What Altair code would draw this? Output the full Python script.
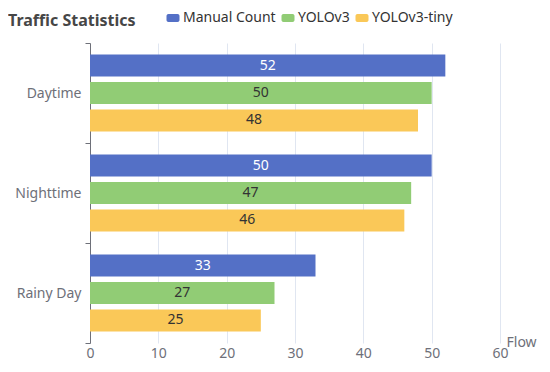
import altair as alt
import pandas as pd

categories = ["Daytime", "Nighttime", "Rainy Day"]
series = ["Manual Count", "YOLOv3", "YOLOv3-tiny"]
manual = [52, 50, 33]
yolov3 = [50, 47, 27]
tiny = [48, 46, 25]
colors = ["#5470c6", "#91cc75", "#fac858"]
x_ticks = [0, 10, 20, 30, 40, 50, 60]

rows = []
for i, c in enumerate(categories):
    for s, vals in zip(series, [manual, yolov3, tiny]):
        rows.append({"Category": c, "Series": s, "Value": vals[i]})
df = pd.DataFrame(rows)

FONT = "Noto Sans"
sym = ("M-0.7,-0.6 H0.7 A0.3,0.3 0 0 1 1,-0.3 V0.3 A0.3,0.3 0 0 1 0.7,0.6 "
       "H-0.7 A0.3,0.3 0 0 1 -1,0.3 V-0.3 A0.3,0.3 0 0 1 -0.7,-0.6 Z")

y_enc = alt.Y("Category:N", sort=categories, title=None,
              scale=alt.Scale(paddingInner=0, paddingOuter=0),
              axis=alt.Axis(domainColor="#6e7079", tickColor="#6e7079", tickBand="extent",
                            tickSize=5, labelColor="#6e7079", labelFontSize=14, labelFont=FONT,
                            labelPadding=4, grid=False))
yoff = alt.YOffset("Series:N", sort=series,
                   scale=alt.Scale(paddingInner=0.2, paddingOuter=0.42))

x_enc = alt.X("Value:Q", title="Flow",
              scale=alt.Scale(domain=[0, 60], nice=False),
              axis=alt.Axis(values=x_ticks, domain=False, ticks=False, grid=True,
                            gridColor="#e0e6f1", labelColor="#6e7079", labelFontSize=14,
                            labelFont=FONT, labelPadding=3, labelFlush=False,
                            titleFont=FONT, titleFontSize=14, titleFontWeight="normal",
                            titleColor="#6e7079", titleAnchor="end", titleAlign="left",
                            titleBaseline="middle", titleX=416, titleY=-1))

bars = alt.Chart(df).mark_bar(size=22).encode(
    x=x_enc,
    y=y_enc,
    yOffset=yoff,
    color=alt.Color("Series:N", sort=series,
                    scale=alt.Scale(domain=series, range=colors),
                    legend=alt.Legend(title=None, orient="none", direction="horizontal",
                                      legendX=76, legendY=-32, symbolType=sym,
                                      symbolSize=169, symbolStrokeWidth=0,
                                      labelFont=FONT, labelFontSize=14, labelColor="#333333",
                                      labelOffset=3, columnPadding=5, symbolOpacity=1)),
)

labels = alt.Chart(df).transform_calculate(
    Half="datum.Value / 2"
).mark_text(font=FONT, fontSize=14, baseline="middle", align="center").encode(
    x=alt.X("Half:Q"),
    y=alt.Y("Category:N", sort=categories),
    yOffset=alt.YOffset("Series:N", sort=series),
    text="Value:Q",
    color=alt.condition(alt.datum.Series == "Manual Count", alt.value("white"), alt.value("#333333")),
)

chart = alt.layer(bars, labels).properties(
    width=410, height=300,
    title=alt.TitleParams("Traffic Statistics", anchor="start", frame="group", dx=-82,
                          font=FONT, fontSize=16, fontWeight="bold", color="#464646",
                          offset=0, dy=18),
    autosize=alt.AutoSizeParams(type="none"),
    padding={"left": 82, "top": 35, "right": 42, "bottom": 21},
).configure_view(stroke=None)

chart.save("out.html", embed_options={"renderer": "svg", "actions": False})
